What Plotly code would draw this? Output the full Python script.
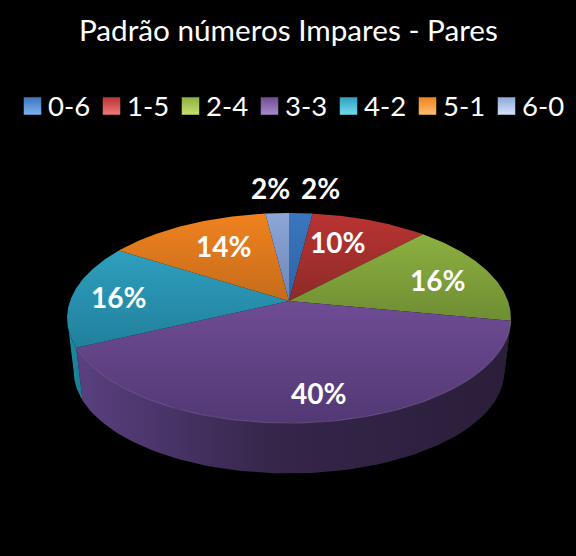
import numpy as np
import plotly.graph_objects as go

TITLE = "Padrão números Impares - Pares"
categories = ["0-6", "1-5", "2-4", "3-3", "4-2", "5-1", "6-0"]
values = [2, 10, 16, 40, 16, 14, 2]
labels = ["2%", "10%", "16%", "40%", "16%", "14%", "2%"]

face_top = ["#3B76BE", "#B93432", "#8CB040", "#6F4C95", "#2F9FBE", "#F0821F", "#8DA8D8"]
face_bottom = ["#2F62A4", "#8E2A28", "#6F8D33", "#523874", "#20809C", "#C56C1B", "#6B85B6"]
wall_left = ["#1A4A80", "#6E2020", "#55702A", "#5A4080", "#1E8AA4", "#A85A16", "#50648C"]
wall_right = ["#1A4A80", "#6E2020", "#55702A", "#2A1E3A", "#1B7C94", "#A85A16", "#50648C"]
legend_light = ["#7FB0F0", "#F07A78", "#C5E070", "#A88AD0", "#70DCEC", "#FFBE70", "#D5E2FA"]
label_x = [320, 337, 437, 318, 118, 223, 270]
label_y = [188, 242, 280, 393, 297, 246, 188]

CX, CY, A, B, K = 289.0, 301.0, 219.0, 102.3, 0.162
DEPTH, SHRINK = 54.0, 0.97
T_RIGHT, T_LEFT = np.degrees(np.arccos(-K)), 360 - np.degrees(np.arccos(-K))


def project(theta_deg, r=1.0, lower=False):
    t = np.radians(theta_deg)
    u, v = r * np.sin(t), r * np.cos(t)
    d = 1 + K * v
    x, y = A * u / d, -B * v / d
    if lower:
        return CX + SHRINK * x, CY + SHRINK * y + DEPTH
    return CX + x, CY + y


fig = go.Figure()
edges = np.concatenate([[0], np.cumsum(values)]) / sum(values) * 360

# side wall
for i in range(len(values)):
    a, b = max(edges[i], T_RIGHT), min(edges[i + 1], T_LEFT)
    if b <= a:
        continue
    th = np.linspace(a, b, 90)
    xt, yt = project(th)
    xb, yb = project(th, lower=True)
    xs = np.concatenate([xt, xb[::-1], xt[:1]])
    ys = np.concatenate([yt, yb[::-1], yt[:1]])
    fig.add_trace(go.Scatter(
        x=xs, y=ys, mode="lines", line=dict(width=0), fill="toself",
        fillgradient=dict(type="horizontal", start=float(xs.min()), stop=float(xs.max()),
                          colorscale=[[0, wall_left[i]], [1, wall_right[i]]]) if i != 3 else
        dict(type="horizontal", start=float(xs.min()), stop=float(xs.max()),
             colorscale=[[0, wall_left[i]], [0.45, "#35264A"], [1, wall_right[i]]]),
        hoverinfo="skip", showlegend=False))

# top faces
for i in range(len(values)):
    th = np.linspace(edges[i], edges[i + 1], 90)
    xa, ya = project(th)
    xs = np.concatenate([[CX], xa, [CX]])
    ys = np.concatenate([[CY], ya, [CY]])
    fig.add_trace(go.Scatter(
        x=xs, y=ys, mode="lines", line=dict(width=0), fill="toself",
        fillgradient=dict(type="vertical", start=float(ys.min()), stop=float(ys.max()),
                          colorscale=[[0, face_top[i]], [1, face_bottom[i]]]),
        name=categories[i], text=labels[i], hoverinfo="name+text", showlegend=False))

# rim highlight on the front edge
th = np.linspace(edges[3], edges[4], 120)
xr, yr = project(th)
fig.add_trace(go.Scatter(x=xr, y=yr, mode="lines", hoverinfo="skip", showlegend=False,
                         line=dict(color="rgba(170,145,200,0.35)", width=1)))

# legend
for i, c in enumerate(categories):
    x0 = 32.5 + 79 * i
    fig.add_trace(go.Scatter(
        x=[x0], y=[106], mode="markers", hoverinfo="skip", showlegend=False,
        marker=dict(symbol="square", size=17.5, color=face_top[i], line=dict(width=0),
                    gradient=dict(type="vertical", color=legend_light[i]))))
    fig.add_annotation(x=x0 + 16.5, y=105, text=c, showarrow=False, xanchor="left", yanchor="middle",
                       xshift=-3, font=dict(family="Lato, Carlito, sans-serif", size=27.5, color="white"))

# data labels
for t, x, y in zip(labels, label_x, label_y):
    fig.add_annotation(x=x, y=y, text=f"<b>{t}</b>", showarrow=False, xanchor="center", yanchor="middle",
                       font=dict(family="Lato, Carlito, sans-serif", size=28, color="white"))

fig.add_annotation(x=288, y=29, text=TITLE, showarrow=False, xanchor="center", yanchor="middle",
                   font=dict(family="Lato, Carlito, sans-serif", size=29.7, color="white"))

fig.update_layout(
    width=576, height=556, margin=dict(l=0, r=0, t=0, b=0),
    paper_bgcolor="black", plot_bgcolor="black", showlegend=False,
    xaxis=dict(range=[0, 576], visible=False, fixedrange=True),
    yaxis=dict(range=[556, 0], visible=False, fixedrange=True),
)
fig.write_html("out.html", config={"displayModeBar": False},
               post_script="document.body.style.margin='0';document.body.style.background='black';"
                           "document.documentElement.style.overflow='hidden';")
